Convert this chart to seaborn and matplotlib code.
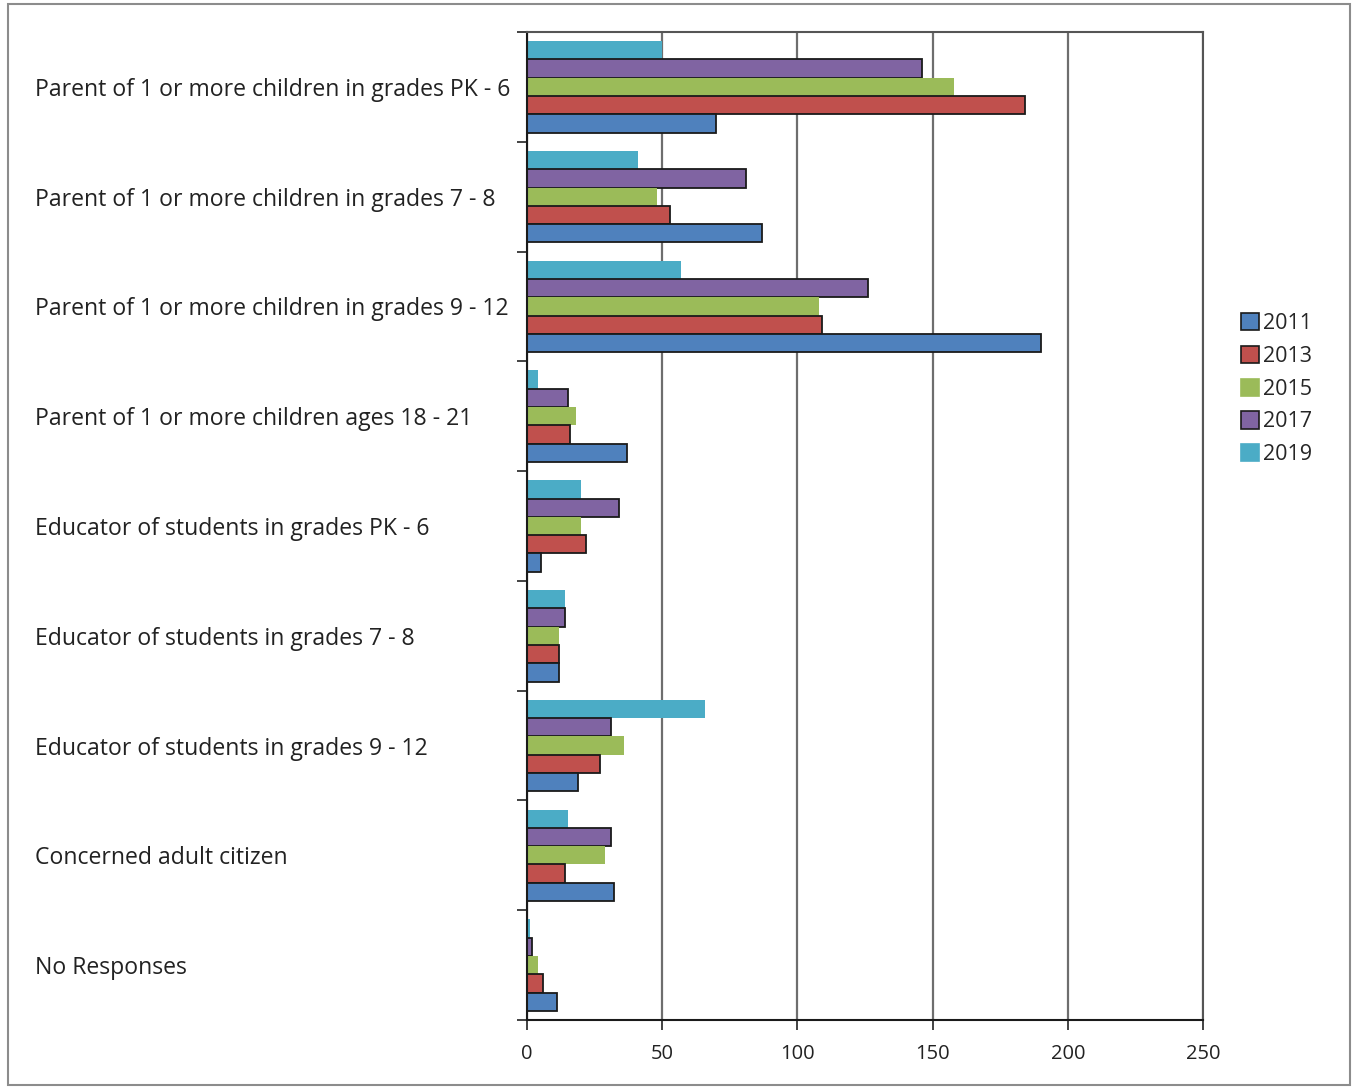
import matplotlib
matplotlib.use("Agg")
import matplotlib.pyplot as plt
from matplotlib.patches import Rectangle, Patch
import pandas as pd
import seaborn as sns

categories = [
    "Parent of 1 or more children in grades PK - 6",
    "Parent of 1 or more children in grades 7 - 8",
    "Parent of 1 or more children in grades 9 - 12",
    "Parent of 1 or more children ages 18 - 21",
    "Educator of students in grades PK - 6",
    "Educator of students in grades 7 - 8",
    "Educator of students in grades 9 - 12",
    "Concerned adult citizen",
    "No Responses",
]
years = ["2011", "2013", "2015", "2017", "2019"]
counts_2011 = [70, 87, 190, 37, 5, 12, 19, 32, 11]
counts_2013 = [184, 53, 109, 16, 22, 12, 27, 14, 6]
counts_2015 = [158, 48, 108, 18, 20, 12, 36, 29, 4]
counts_2017 = [146, 81, 126, 15, 34, 14, 31, 31, 2]
counts_2019 = [50, 41, 57, 4, 20, 14, 66, 15, 1]
year_colors = ["#4F81BD", "#C0504D", "#9BBB59", "#8064A2", "#4BACC6"]
xticks = [0, 50, 100, 150, 200, 250]

series = [counts_2011, counts_2013, counts_2015, counts_2017, counts_2019]
df = pd.DataFrame(
    [(c, y, v) for y, vals in zip(years, series) for c, v in zip(categories, vals)],
    columns=["category", "year", "count"],
)
palette = dict(zip(years, year_colors))
outlined = {"2011", "2013", "2017"}

sns.set_style("white")
plt.rcParams["font.family"] = ["Open Sans", "DejaVu Sans"]

W, H = 1354, 1089
fig = plt.figure(figsize=(W / 100, H / 100), dpi=100)
ax = fig.add_axes([527 / W, 1 - 1020 / H, 676 / W, 988 / H])

# newest year drawn on top within each group
stack_order = years[::-1]
sns.barplot(
    data=df, y="category", x="count", hue="year",
    order=categories, hue_order=stack_order, palette=palette,
    orient="h", width=0.835, saturation=1, legend=False, errorbar=None, ax=ax,
)
for yr, cont in zip(stack_order, ax.containers):
    for bar in cont:
        if yr in outlined:
            bar.set_edgecolor("#1a1a1a")
            bar.set_linewidth(1.3)
        else:
            bar.set_edgecolor("none")

ax.set_xlim(0, 250)
ax.set_ylim(len(categories) - 0.5, -0.5)
ax.set_xticks(xticks)
ax.set_xticklabels([str(t) for t in xticks], fontsize=14.5, color="#222222")
ax.grid(axis="x", color="#6e6e6e", linewidth=1.6)
ax.set_axisbelow(True)
ax.tick_params(axis="x", direction="out", length=7, width=1.2, color="#222222", pad=10, bottom=True)

# category labels left-aligned at the figure margin, boundary ticks between groups
ax.set_yticks(range(len(categories)))
ax.set_yticklabels(categories, fontsize=16.6, color="#222222", ha="left")
ax.tick_params(axis="y", which="major", length=0, pad=(527 - 35) * 0.72)
ax.set_yticks([i - 0.5 for i in range(len(categories) + 1)], minor=True)
ax.tick_params(axis="y", which="minor", direction="out", length=7.5, width=1.2, color="#222222", left=True)
ax.set_xlabel("")
ax.set_ylabel("")

for side in ["left", "bottom"]:
    ax.spines[side].set_color("#1a1a1a")
    ax.spines[side].set_linewidth(1.5)
for side in ["top", "right"]:
    ax.spines[side].set_color("#555555")
    ax.spines[side].set_linewidth(1.5)

handles = [
    Patch(facecolor=c, edgecolor="#1a1a1a" if y in outlined else c, linewidth=1.2, label=y)
    for y, c in zip(years, year_colors)
]
fig.legend(
    handles=handles, loc="upper left", bbox_to_anchor=(1230 / W, 1 - 302 / H),
    frameon=False, fontsize=15.5, handlelength=0.85, handleheight=0.85,
    handletextpad=0.2, labelspacing=0.55, borderpad=0,
)

fig.patches.append(Rectangle((8 / W, 4 / H), 1342 / W, 1081 / H, transform=fig.transFigure,
                             fill=False, edgecolor="#8c8c8c", linewidth=1.5))

fig.savefig("out.png", dpi=100)
